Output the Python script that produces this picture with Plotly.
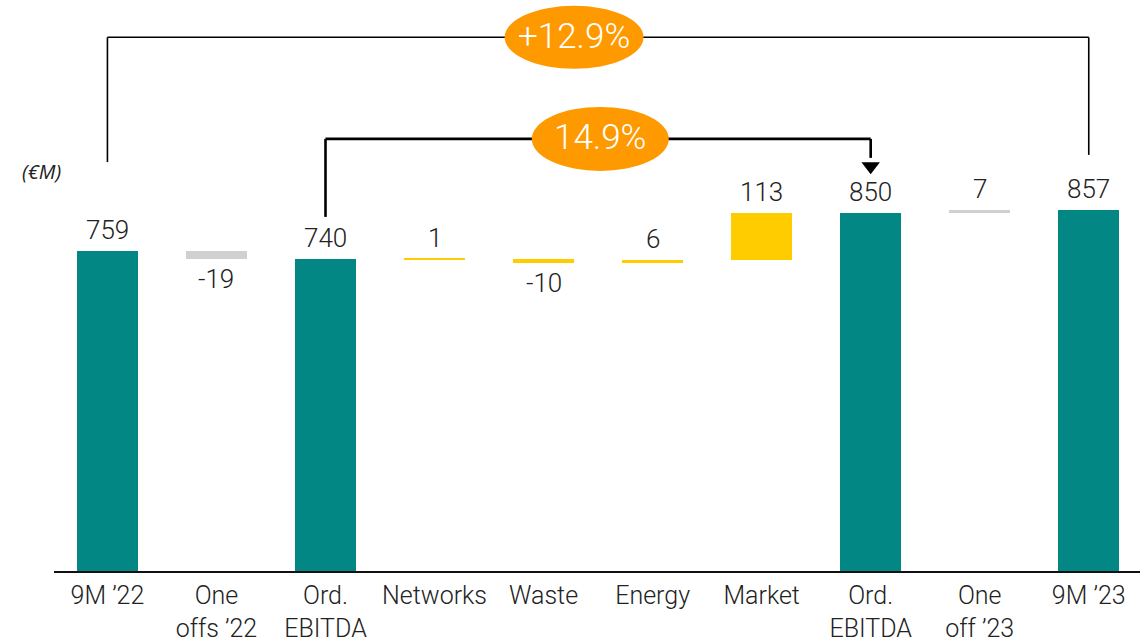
import plotly.graph_objects as go

categories = ["9M ’22", "One<br>offs ’22", "Ord.<br>EBITDA", "Networks", "Waste",
              "Energy", "Market", "Ord.<br>EBITDA", "One<br>off ’23", "9M ’23"]
values = [759, -19, 740, 1, -10, 6, 113, 850, 7, 857]
kinds = ["total", "delta", "total", "delta", "delta", "delta", "delta", "total", "delta", "total"]
bar_colors = ["#038784", "#D0D0D0", "#038784", "#FFCC00", "#FFCC00",
              "#FFCC00", "#FFCC00", "#038784", "#D0D0D0", "#038784"]
pct_labels = ["+12.9%", "14.9%"]

# waterfall geometry from the data
bases, heights, tops, bottoms = [], [], [], []
running = 0
for v, k in zip(values, kinds):
    if k == "total":
        running = v
        bases.append(0); heights.append(v)
        tops.append(v); bottoms.append(0)
    else:
        start = running
        running = start + v
        lo, hi = min(start, running), max(start, running)
        bases.append(lo); heights.append(max(hi - lo, 1.0))
        tops.append(hi); bottoms.append(lo)

xs = list(range(len(categories)))
fig = go.Figure()
fig.add_trace(go.Bar(x=xs, y=heights, base=bases, marker_color=bar_colors,
                     marker_line_width=0, width=0.56, hoverinfo="skip"))

font_fam = "Roboto"
annotations = []
for i, (v, k) in enumerate(zip(values, kinds)):
    if v >= 0:
        annotations.append(dict(x=i, y=tops[i], text=str(v), showarrow=False,
                                yanchor="bottom", yshift=4,
                                font=dict(family=font_fam, size=26, color="#222222", weight=300)))
    else:
        annotations.append(dict(x=i, y=bottoms[i], text=str(v), showarrow=False,
                                yanchor="top", yshift=-3,
                                font=dict(family=font_fam, size=26, color="#222222", weight=300)))

# unit label
annotations.append(dict(xref="paper", yref="paper", x=-0.0115, y=0.70, text="<i>(€M)</i>",
                        showarrow=False, xanchor="center", yanchor="middle",
                        font=dict(family="Open Sans", size=20, color="#222222")))

shapes = []
# outer bracket (9M'22 -> 9M'23)
outer_y = values[0] + 507
shapes += [
    dict(type="line", x0=0, x1=0, y0=values[0] + 211, y1=outer_y, line=dict(color="black", width=1.6)),
    dict(type="line", x0=0, x1=9, y0=outer_y, y1=outer_y, line=dict(color="black", width=1.6)),
    dict(type="line", x0=9, x1=9, y0=outer_y, y1=values[9] + 130, line=dict(color="black", width=1.6)),
]
# inner bracket (Ord. EBITDA -> Ord. EBITDA)
inner_y = values[2] + 285
shapes += [
    dict(type="line", x0=2, x1=2, y0=values[2] + 100, y1=inner_y, line=dict(color="black", width=2.6)),
    dict(type="line", x0=2, x1=7, y0=inner_y, y1=inner_y, line=dict(color="black", width=2.6)),
    dict(type="line", x0=7, x1=7, y0=inner_y, y1=values[7] + 130, line=dict(color="black", width=2.6)),
]
# ellipses
ell = [(4.28, outer_y, 139, 63), (4.52, inner_y, 137, 64)]
for (cx, cy, w, h), lab in zip(ell, pct_labels):
    shapes.append(dict(type="circle", xref="x", yref="y", xsizemode="pixel", ysizemode="pixel",
                       xanchor=cx, yanchor=cy, x0=-w / 2, x1=w / 2, y0=-h / 2, y1=h / 2,
                       fillcolor="#FF9900", line=dict(width=0), layer="above"))
    annotations.append(dict(x=cx, y=cy, text=lab, showarrow=False, xanchor="center",
                            yanchor="middle", yshift=1,
                            font=dict(family=font_fam, size=35, color="white", weight=300)))

# arrow head
fig.add_trace(go.Scatter(x=[7], y=[values[7] + 110], mode="markers",
                         marker=dict(symbol="triangle-down", size=16, color="black"),
                         hoverinfo="skip"))

fig.update_layout(
    width=1140, height=642,
    margin=dict(l=54, r=0, t=0, b=71),
    paper_bgcolor="white", plot_bgcolor="white",
    showlegend=False, bargap=0,
    shapes=shapes, annotations=annotations,
    xaxis=dict(range=[-0.49, 9.47], tickvals=xs, ticktext=categories,
               showline=True, linecolor="#111111", linewidth=2, showgrid=False,
               zeroline=False, ticks="", tickangle=0, ticklabelstandoff=1,
               automargin=False,
               tickfont=dict(family=font_fam, size=25, color="#222222", weight=300)),
    yaxis=dict(range=[0, 1354.5], visible=False, showgrid=False, zeroline=False,
               automargin=False),
)

fig.write_html("out.html", config={"displayModeBar": False},
               post_script="document.body.style.margin='0';")
